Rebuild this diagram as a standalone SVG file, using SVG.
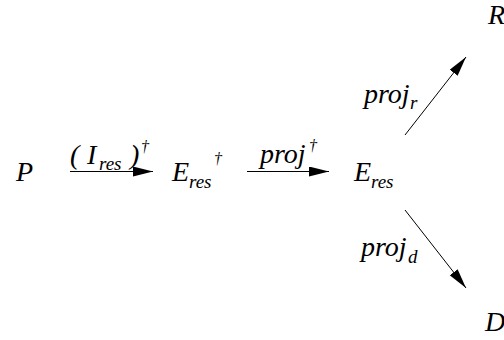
<svg xmlns="http://www.w3.org/2000/svg" width="504" height="340" viewBox="0 0 504 340">
<style>
  .t { font-family: 'Liberation Serif', 'Times New Roman', serif; font-style: italic; fill: #000; }
  .m { font-size: 28px; }
  .s { font-size: 19px; }
  .d { font-size: 16px; }
  .ln { stroke: #000; stroke-width: 1; fill: none; }
</style>
<defs>
  <marker id="ah" markerWidth="22" markerHeight="12" refX="20" refY="5" orient="auto" markerUnits="userSpaceOnUse">
    <polygon points="0,0 20,5 0,10" fill="#000"/>
  </marker>
</defs>
<g class="t">
<g id="P"><text class="m" x="16" y="181">P</text></g>
<g id="Eresdag"><text class="m" x="172" y="181">E</text><text class="s" x="189" y="188">res</text><text class="d" x="214" y="164">†</text></g>
<g id="Eres"><text class="m" x="354" y="181">E</text><text class="s" x="371" y="188">res</text></g>
<g id="R"><text class="m" x="488" y="24">R</text></g>
<g id="D"><text class="m" x="485" y="331">D</text></g>
</g>
<g id="connectors">
  <line class="ln" x1="70" y1="171.5" x2="153" y2="171.5" marker-end="url(#ah)"/>
  <line class="ln" x1="247" y1="171.5" x2="329" y2="171.5" marker-end="url(#ah)"/>
  <line class="ln" x1="405" y1="135" x2="466" y2="57" marker-end="url(#ah)"/>
  <line class="ln" x1="405" y1="210" x2="466" y2="288" marker-end="url(#ah)"/>
  <g class="t">
  <g id="lbl1"><text class="m" x="70" y="164">(</text><text class="m" x="87" y="164">I</text><text class="s" x="99" y="170">res</text><text class="m" x="130" y="164">)</text><text class="d" x="141" y="152">†</text></g>
  <g id="lbl2"><text class="m" x="260" y="163">proj</text><text class="d" x="309" y="151">†</text></g>
  <g id="lbl3"><text class="m" x="364" y="103">proj</text><text class="s" x="410" y="109">r</text></g>
  <g id="lbl4"><text class="m" x="361" y="256">proj</text><text class="s" x="408" y="263">d</text></g>
  </g>
</g>
</svg>
